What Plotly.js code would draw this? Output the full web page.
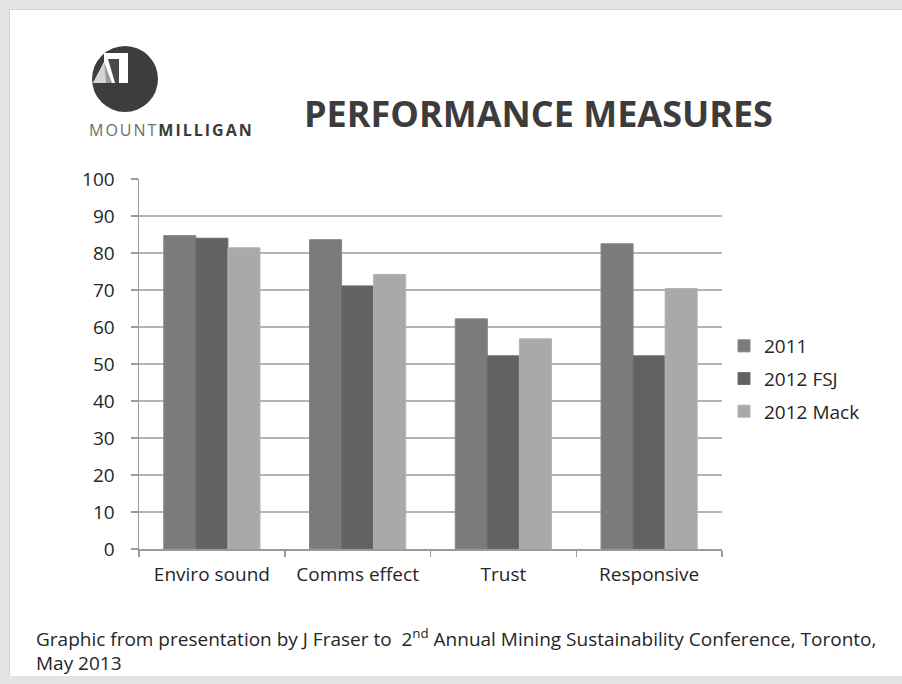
<!DOCTYPE html>
<html>
<head>
<meta charset="utf-8">
<script src="https://cdn.plot.ly/plotly-3.0.1.min.js"></script>
<style>
  html, body { margin: 0; padding: 0; width: 902px; height: 684px; overflow: hidden; background: #e4e4e4; }
  #panel { position: absolute; left: 9px; top: 9px; width: 893px; height: 667px; background: #ffffff;
           border-left: 1px solid #d4d4d4; border-top: 1px solid #d4d4d4; box-sizing: border-box; }
  #chart { position: absolute; left: 0; top: 0; width: 902px; height: 684px; }
</style>
</head>
<body>
<div id="panel"></div>
<div id="chart"></div>
<script>
// Survey scores by measure
const categories = ['Enviro sound', 'Comms effect', 'Trust', 'Responsive'];
const seriesNames = ['2011', '2012 FSJ', '2012 Mack'];
const values2011 = [84.7, 83.6, 62.2, 82.5];
const values2012FSJ = [84.0, 71.1, 52.2, 52.2];
const values2012Mack = [81.4, 74.2, 56.8, 70.4];
const yTicks = [0, 10, 20, 30, 40, 50, 60, 70, 80, 90, 100];

const seriesValues = [values2011, values2012FSJ, values2012Mack];
const seriesColors = ['#7b7b7b', '#626262', '#a9a9a9'];
const edgeColors = ['#868686', '#6c6c6c', '#b2b2b2'];

const FONT = 'Open Sans, Lato, sans-serif';
const W = 902, H = 684;
const M = { l: 139, r: W - 722, t: 179, b: H - 549 };

// page pixel -> paper fraction helpers for decorations
const PX = x => (x - M.l) / (W - M.l - M.r);
const PY = y => (H - M.b - y) / (H - M.t - M.b);

const traces = seriesNames.map((name, i) => ({
  type: 'bar',
  name: name,
  x: categories,
  y: seriesValues[i],
  legendgroup: 'g' + i,
  marker: { color: seriesColors[i], line: { color: edgeColors[i], width: 1 } },
  hoverinfo: 'x+y+name'
}));

function poly(pts) {
  return 'M' + pts.map(p => PX(p[0]) + ',' + PY(p[1])).join('L') + 'Z';
}

const shapes = [
  // logo disc
  { type: 'circle', xref: 'paper', yref: 'paper',
    x0: PX(92), x1: PX(158), y0: PY(112), y1: PY(46),
    fillcolor: '#3d3d3d', line: { width: 0 }, layer: 'above' },
  // white notch forming the M
  { type: 'path', xref: 'paper', yref: 'paper', path: poly([[104, 53], [128, 53], [128, 83], [93, 83], [100, 70], [104, 62]]),
    fillcolor: '#ffffff', line: { width: 0 }, layer: 'above' },
  // M middle stroke
  { type: 'path', xref: 'paper', yref: 'paper', path: poly([[108, 59], [119, 59], [119, 83], [115, 83]]),
    fillcolor: '#4a4a4a', line: { width: 0 }, layer: 'above' },
  // facets
  { type: 'path', xref: 'paper', yref: 'paper', path: poly([[93, 83], [104, 62], [106, 83]]),
    fillcolor: '#d4d4d4', line: { width: 0 }, layer: 'above' },
  { type: 'path', xref: 'paper', yref: 'paper', path: poly([[104, 62], [112, 83], [106, 83]]),
    fillcolor: '#9a9a9a', line: { width: 0 }, layer: 'above' }
];

const annotations = [
  { text: '<b>PERFORMANCE MEASURES</b>', xref: 'paper', yref: 'paper', x: PX(538), y: PY(113),
    xanchor: 'center', yanchor: 'middle', showarrow: false,
    font: { family: FONT, size: 36, color: '#3c3c3c' } },
  { text: '<span style="color:#6e6e6e;letter-spacing:2px">MOUNT</span><b style="letter-spacing:2px">MILLIGAN</b>',
    xref: 'paper', yref: 'paper',
    x: PX(171), y: PY(130), xanchor: 'center', yanchor: 'middle', showarrow: false,
    font: { family: FONT, size: 16, color: '#3a3a3a' } },
  { text: 'Graphic from presentation by J Fraser to  2<sup>nd</sup> Annual Mining Sustainability Conference, Toronto,',
    xref: 'paper', yref: 'paper', x: PX(34), y: PY(638), xanchor: 'left', yanchor: 'middle', showarrow: false,
    font: { family: FONT, size: 19, color: '#262626' } },
  { text: 'May 2013', xref: 'paper', yref: 'paper', x: PX(34), y: PY(663), xanchor: 'left', yanchor: 'middle',
    showarrow: false, font: { family: FONT, size: 19, color: '#262626' } }
];

const layout = {
  width: W, height: H,
  margin: M,
  paper_bgcolor: 'rgba(0,0,0,0)',
  plot_bgcolor: 'rgba(0,0,0,0)',
  barmode: 'group',
  bargap: 0.34,
  bargroupgap: 0,
  font: { family: FONT, size: 19, color: '#262626' },
  showlegend: true,
  legend: {
    x: PX(724), y: PY(379), xanchor: 'left', yanchor: 'middle',
    traceorder: 'grouped', tracegroupgap: 5,
    font: { family: FONT, size: 19, color: '#262626' },
    bgcolor: 'rgba(0,0,0,0)'
  },
  xaxis: {
    type: 'category',
    tickson: 'boundaries',
    ticks: 'outside', ticklen: 6, tickcolor: '#9a9a9a', tickwidth: 1.5,
    showline: true, linecolor: '#9a9a9a', linewidth: 1.5,
    showgrid: false, zeroline: false,
    ticklabelstandoff: 8,
    tickfont: { family: FONT, size: 19, color: '#262626' }
  },
  yaxis: {
    range: [0, 100],
    tickmode: 'array', tickvals: yTicks, ticktext: yTicks.map(String),
    ticks: 'outside', ticklen: 7, tickcolor: '#9a9a9a', tickwidth: 1.5,
    showline: true, linecolor: '#9a9a9a', linewidth: 1.5,
    showgrid: true, gridcolor: '#b4b4b4', gridwidth: 1.5,
    zeroline: false,
    ticklabelstandoff: 12,
    tickfont: { family: FONT, size: 19, color: '#262626' }
  },
  shapes: shapes,
  annotations: annotations
};

Plotly.newPlot('chart', traces, layout, { displayModeBar: false, staticPlot: true });
</script>
</body>
</html>
